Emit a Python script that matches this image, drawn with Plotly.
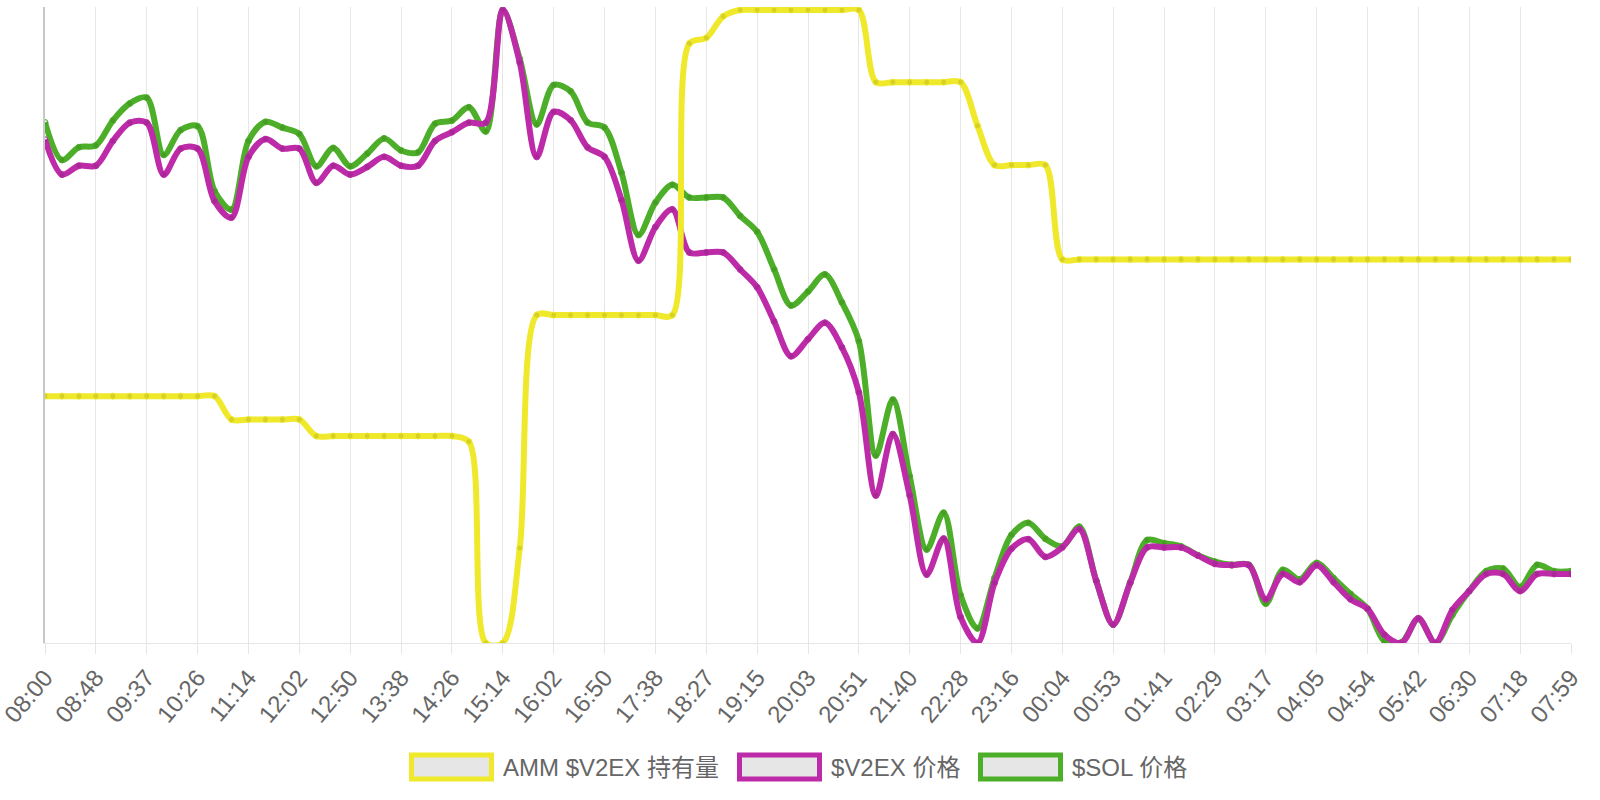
import plotly.graph_objects as go

# ---------------- data ----------------
tick_labels = ["08:00", "08:48", "09:37", "10:26", "11:14", "12:02", "12:50", "13:38",
               "14:26", "15:14", "16:02", "16:50", "17:38", "18:27", "19:15", "20:03",
               "20:51", "21:40", "22:28", "23:16", "00:04", "00:53", "01:41", "02:29",
               "03:17", "04:05", "04:54", "05:42", "06:30", "07:18", "07:59"]

series_names = ["AMM $V2EX 持有量", "$V2EX 价格", "$SOL 价格"]

amm_holding = [39.0, 39.0, 39.0, 39.0, 39.0, 39.0, 39.0, 39.0, 39.0, 39.0, 39.0,
               35.3, 35.3, 35.3, 35.3, 35.3,
               32.7, 32.7, 32.7, 32.7, 32.7, 32.7, 32.7, 32.7, 32.7,
               31.8, 0.0, 0.0, 15.0,
               51.8, 51.8, 51.8, 51.8, 51.8, 51.8, 51.8, 51.8, 51.8,
               94.7, 95.6, 99.0,
               100.0, 100.0, 100.0, 100.0, 100.0, 100.0, 100.0, 100.0,
               88.6, 88.6, 88.6, 88.6, 88.6, 88.6,
               81.7, 75.5, 75.5, 75.5, 75.5,
               60.6, 60.6, 60.6, 60.6, 60.6, 60.6, 60.6, 60.6, 60.6, 60.6,
               60.6, 60.6, 60.6, 60.6, 60.6, 60.6, 60.6, 60.6, 60.6, 60.6,
               60.6, 60.6, 60.6, 60.6, 60.6, 60.6, 60.6, 60.6, 60.6, 60.6, 60.6]

v2ex_price = [79.5, 74.0, 75.4, 75.4, 79.3, 82.2, 82.2, 74.0, 78.1, 78.1,
              69.8, 67.2, 76.8, 79.6, 78.1, 78.1, 72.7, 75.4, 74.0, 75.2,
              76.8, 75.4, 75.4, 79.3, 80.7, 82.2, 82.2, 100.0, 91.7, 76.8,
              83.9, 82.6, 78.3, 76.8, 70.0, 60.4, 65.7, 68.5, 61.7, 61.7,
              61.7, 59.0, 56.2, 50.8, 45.3, 48.0, 50.6, 46.7, 39.6, 23.3,
              33.0, 23.3, 10.8, 16.5, 4.1, 0.0, 9.5, 14.9, 16.4, 13.6,
              15.1, 18.0, 9.8, 2.9, 9.5, 15.1, 15.1, 15.1, 13.8, 12.5,
              12.3, 12.3, 6.9, 10.9, 9.6, 12.3, 9.6, 6.9, 5.4, 1.3,
              0.0, 3.9, 0.0, 5.2, 8.2, 10.9, 10.9, 8.2, 10.9, 10.9, 10.9]

sol_price = [81.9, 76.0, 78.0, 78.3, 82.2, 84.9, 85.8, 76.8, 80.7, 81.3,
             71.1, 68.2, 79.0, 82.0, 81.1, 80.1, 75.0, 77.9, 75.0, 77.0,
             79.4, 77.5, 77.2, 81.7, 82.2, 84.3, 80.5, 99.6, 91.9, 81.6,
             87.8, 86.8, 81.9, 81.1, 74.0, 64.2, 69.3, 72.1, 70.1, 70.1,
             70.1, 67.2, 64.7, 58.8, 53.1, 55.3, 58.0, 53.6, 47.5, 29.5,
             38.3, 26.2, 14.7, 20.5, 7.5, 2.3, 10.2, 17.0, 18.9, 16.4,
             15.2, 18.3, 9.8, 2.9, 9.5, 16.2, 15.7, 15.2, 13.8, 12.8,
             12.3, 12.3, 6.2, 11.5, 10.0, 12.6, 10.2, 7.7, 5.4, 0.3,
             0.1, 3.8, 0.0, 4.4, 8.2, 11.3, 11.7, 8.8, 12.3, 11.3, 11.3]

colors = ["#f0e92b", "#bd2ba8", "#4daf29"]

# ---------------- layout constants ----------------
W, H = 1600, 800
PLOT_L, PLOT_R = 45, 1571
PLOT_T, PLOT_B = 7, 643          # top padded 3px so the peak line is not clipped
DATA_T = 10
TEXT_COLOR = "#666666"
GRID = "#e6e6e6"
FONT = "Liberation Sans, Arial, Noto Sans CJK SC, sans-serif"

n_points = len(amm_holding)
x_idx = list(range(n_points))
tick_vals = x_idx[::3]


def padded_range(vals):
    lo, hi = min(vals), max(vals)
    span = hi - lo
    return [lo, lo + span * (PLOT_B - PLOT_T) / (PLOT_B - DATA_T)]


fig = go.Figure()

# draw order: green bottom, magenta, yellow top (as in reference)
for vals, name, col, axis in [(sol_price, series_names[2], colors[2], "y"),
                              (v2ex_price, series_names[1], colors[1], "y2"),
                              (amm_holding, series_names[0], colors[0], "y3")]:
    fig.add_trace(go.Scatter(
        x=x_idx, y=vals, name=name, yaxis=axis, mode="lines+markers",
        line=dict(color=col, width=6, shape="spline", smoothing=0.9),
        marker=dict(size=6, color="rgba(0,0,0,0.1)", line=dict(color=col, width=1)),
        showlegend=False, hoverinfo="skip",
    ))

fig.update_layout(
    width=W, height=H,
    margin=dict(l=PLOT_L, r=W - PLOT_R, t=PLOT_T, b=H - PLOT_B, pad=0, autoexpand=False),
    paper_bgcolor="white", plot_bgcolor="white",
    font=dict(family=FONT, color=TEXT_COLOR, size=24),
    xaxis=dict(
        range=[0, n_points - 1], tickmode="array", tickvals=tick_vals, ticktext=tick_labels,
        tickangle=-50, showgrid=True, gridcolor=GRID, gridwidth=1,
        ticks="outside", ticklen=10, tickcolor=GRID, tickwidth=1,
        showline=True, linecolor=GRID, linewidth=1, zeroline=False,
        ticklabeloverflow="allow", automargin=False,
        tickfont=dict(size=24, color=TEXT_COLOR, family=FONT),
    ),
    yaxis=dict(range=padded_range(sol_price), showgrid=False, zeroline=False, automargin=False,
               showticklabels=False, ticks="", showline=True, linecolor="#c8c8c8", linewidth=1.5),
    yaxis2=dict(range=padded_range(v2ex_price), overlaying="y", visible=False),
    yaxis3=dict(range=padded_range(amm_holding), overlaying="y", visible=False),
)

# ---------------- custom legend (boxes + labels) ----------------
plot_w = PLOT_R - PLOT_L
plot_h = PLOT_B - PLOT_T


def px_x(px):
    return (px - PLOT_L) / plot_w


def px_y(py):
    return (PLOT_B - py) / plot_h


legend_box_left = [411.5, 739.5, 980.5]
box_w, box_h = 80, 24
legend_cy = 767
shapes = []
annotations = []
for name, col, bx in zip(series_names, colors, legend_box_left):
    shapes.append(dict(
        type="rect", xref="paper", yref="paper",
        x0=px_x(bx), x1=px_x(bx + box_w),
        y0=px_y(legend_cy + box_h / 2), y1=px_y(legend_cy - box_h / 2),
        line=dict(color=col, width=5), fillcolor="#e6e6e6", layer="above",
    ))
    annotations.append(dict(
        xref="paper", yref="paper", x=px_x(bx + box_w + 9), y=px_y(legend_cy),
        xanchor="left", yanchor="middle", text=name, showarrow=False,
        font=dict(size=24, color=TEXT_COLOR, family=FONT),
    ))
fig.update_layout(shapes=shapes, annotations=annotations)

fig.write_html("out.html")
